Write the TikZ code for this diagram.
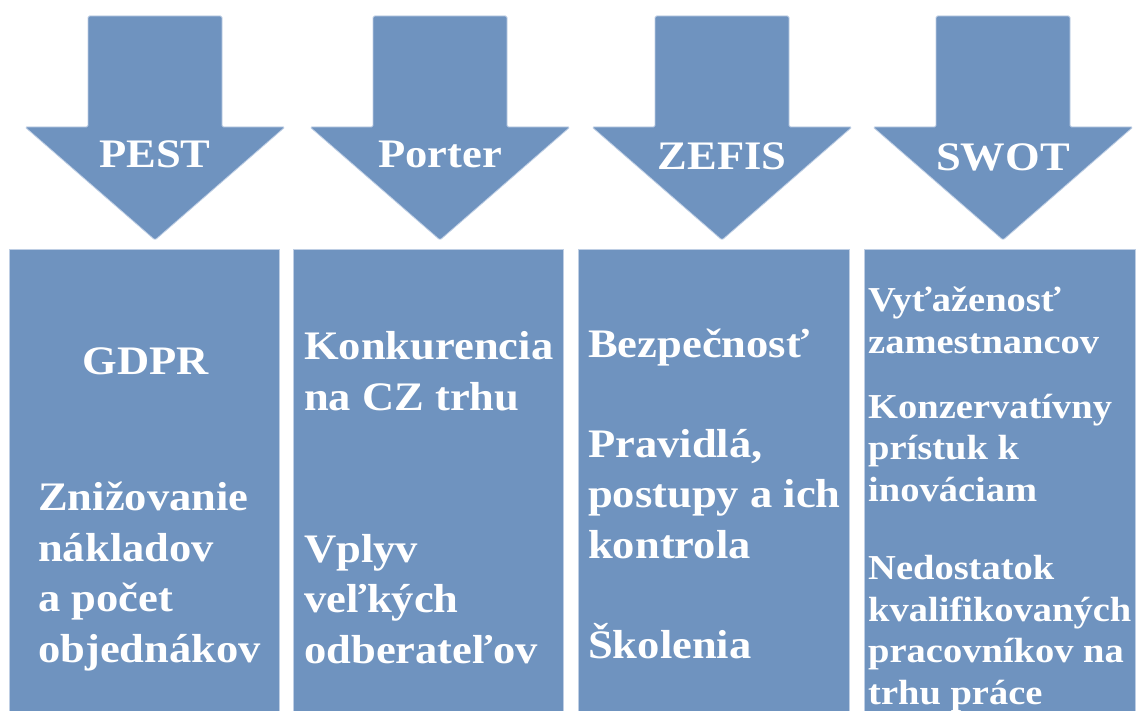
\documentclass[tikz,border=0pt]{standalone}
\usepackage{fontspec}
\newfontfamily\df{Liberation Serif}[FakeStretch=1.1]
\definecolor{boxblue}{RGB}{111,147,191}
\definecolor{edgeblue}{RGB}{190,206,228}
\tikzset{
  shapefill/.style={fill=boxblue, draw=edgeblue, line width=0.8pt},
  arrowshape/.style={shapefill, rounded corners=1.5pt},
  biglabel/.style={text=white, inner sep=0pt, font=\df\bfseries\fontsize{40.5}{50.5}\selectfont},
  itemtext/.style={biglabel, align=left, anchor=base west},
  smalltext/.style={itemtext, font=\df\bfseries\fontsize{35}{41.5}\selectfont},
}
\begin{document}
\begin{tikzpicture}[x=1pt,y=-1pt]
\useasboundingbox (0,0) rectangle (1137,711);
\clip (0,0) rectangle (1137,711);
\fill[white] (0,0) rectangle (1137,711);
% arrows
\foreach \c/\lab/\nm/\bl in {155/PEST/a1/168, 440/Porter/a2/168, 722/ZEFIS/a3/170, 1003/SWOT/a4/171}{
  \draw[arrowshape] (\c-67,16) -- (\c+67,16) -- (\c+67,127) -- (\c+130,127) -- (\c,240) -- (\c-130,127) -- (\c-67,127) -- cycle;
  \node[biglabel, anchor=base] (\nm) at (\c,\bl) {\lab};
}
% boxes
\draw[shapefill] (9,249) rectangle (279,720);
\draw[shapefill] (293,249) rectangle (563,720);
\draw[shapefill] (578,249) rectangle (849,720);
\draw[shapefill] (864,249) rectangle (1135,720);
% box 1 (multi-line nodes: base anchor = last line's baseline)
\node[biglabel, anchor=base] (gdpr) at (146,374) {GDPR};
\node[itemtext] (znz) at (38,662) {Znižovanie\\nákladov\\a počet\\objednákov};
% box 2
\node[itemtext] (konk) at (304,410) {Konkurencia\\na CZ trhu};
\node[itemtext] (vply) at (304,663) {Vplyv\\veľkých\\odberateľov};
% box 3
\node[itemtext] (bezp) at (588,357) {Bezpečnosť};
\node[itemtext] (prav) at (588,558) {Pravidlá,\\postupy a ich\\kontrola};
\node[itemtext] (skol) at (588,658) {Školenia};
% box 4
\node[smalltext] (vyt) at (868,353) {Vyťaženosť\\zamestnancov};
\node[smalltext] (konz) at (868,501) {Konzervatívny\\prístuk k\\inováciam};
\node[smalltext] (nedo) at (868,704) {Nedostatok\\kvalifikovaných\\pracovníkov na\\trhu práce};
\end{tikzpicture}
\end{document}
